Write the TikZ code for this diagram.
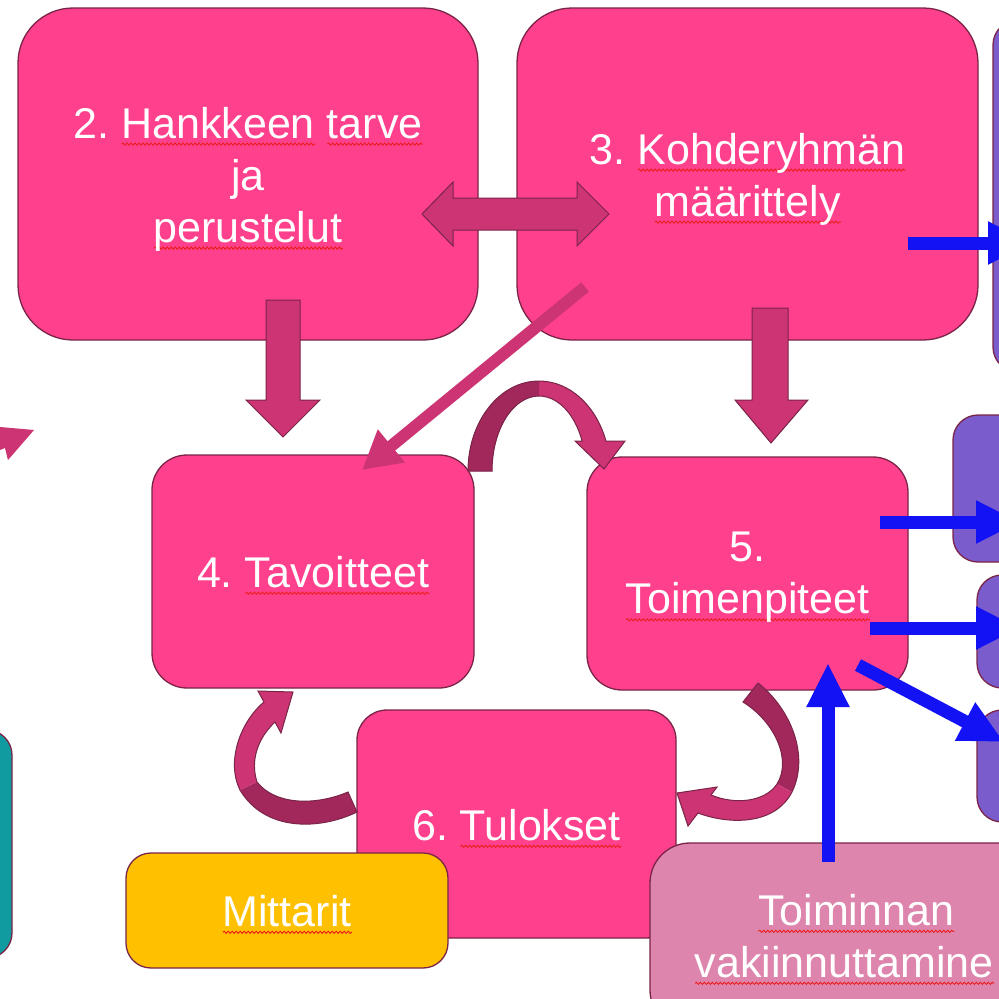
\documentclass[tikz,border=0pt]{standalone}
\usepackage{fontspec}
\setmainfont{Liberation Sans}
\usetikzlibrary{arrows.meta,decorations.pathmorphing}
\definecolor{hot}{RGB}{255,64,140}
\definecolor{edge}{RGB}{122,36,72}
\definecolor{barrow}{RGB}{204,52,115}
\definecolor{barrowdk}{RGB}{162,40,92}
\definecolor{purp}{RGB}{122,92,204}
\definecolor{tealbox}{RGB}{16,155,160}
\definecolor{amber}{RGB}{255,192,0}
\definecolor{mauve}{RGB}{222,133,173}
\definecolor{blu}{RGB}{18,18,245}
\definecolor{spell}{RGB}{235,30,30}
\frenchspacing
\newsavebox\wordbox
\newlength\wordwd
\newcommand\sqw[1]{\sbox\wordbox{#1}\setlength\wordwd{\wd\wordbox}%
  \rlap{\raisebox{-6pt}{\tikz[x=1pt,y=1pt,baseline=0pt,sharp corners]{\draw[spell,sharp corners,line width=0.9pt,
    decorate,decoration={snake,amplitude=1.1pt,segment length=4pt}] (0,0) -- (\wordwd,0);}}}%
  \usebox\wordbox}
\begin{document}
\begin{tikzpicture}[x=1pt,y=-1pt,
  box/.style={draw=edge,line width=1.3pt,rounded corners=#1,inner sep=0pt},
  txt/.style={inner sep=0pt,text=white,font=\fontsize{43}{52}\selectfont,align=center},
  blockarr/.style={fill=barrow,draw=edge,line width=1pt},
  bluearr/.style={draw=blu,line width=13pt,-{Triangle[length=44pt,width=40pt]}},
  diagarr/.style={draw=barrow,line width=12pt,-{Triangle[length=38pt,width=40pt]}}]
\useasboundingbox (0,0) rectangle (999,999);
\clip (0,0) rectangle (999,999);
\fill[white] (0,0) rectangle (999,999);

% right purple boxes
\node[box=25pt,fill=purp,minimum width=67pt,minimum height=352pt] (p1) at (1026.5,196) {};
\node[box=25pt,fill=purp,minimum width=87pt,minimum height=147pt] (p2) at (996.5,488.5) {};
\node[box=25pt,fill=purp,minimum width=63pt,minimum height=113pt] (p3) at (1008.5,631.5) {};
\node[box=25pt,fill=purp,minimum width=63pt,minimum height=112pt] (p4) at (1008.5,766) {};
% left teal box
\node[box=25pt,fill=tealbox,minimum width=52pt,minimum height=228pt] (tl) at (-14,844) {};

% main boxes
\node[box=55pt,fill=hot,minimum width=460pt,minimum height=332pt] (b2) at (248,174) {};
\node[txt] (b2t) at (248,179) {2. \sqw{Hankkeen} \sqw{tarve}\\ja\\\sqw{perustelut}};
\node[box=55pt,fill=hot,minimum width=461pt,minimum height=332pt] (b3) at (747.5,174) {};
\node[txt] (b3t) at (747.5,179) {3. \sqw{Kohderyhmän}\\\sqw{määrittely}};
\node[box=35pt,fill=hot,minimum width=322pt,minimum height=233pt] (b4) at (313,571.5) {};
\node[txt] (b4t) at (313,575.5) {4. \sqw{Tavoitteet}};
\node[box=35pt,fill=hot,minimum width=321pt,minimum height=233pt] (b5) at (747.5,573.5) {};
\node[txt] (b5t) at (747.5,577.5) {5.\\\sqw{Toimenpiteet}};
\node[box=30pt,fill=hot,minimum width=319pt,minimum height=228pt] (b6) at (516.5,824) {};
\node[txt] (b6t) at (516.5,828.5) {6. \sqw{Tulokset}};
\node[box=25pt,fill=amber,minimum width=322pt,minimum height=115pt] (mit) at (287,910.5) {};
\node[txt] (mitt) at (287,914.5) {\sqw{Mittarit}};
\node[box=40pt,fill=mauve,minimum width=412pt,minimum height=187pt] (toi) at (856,936.5) {};
\node[txt] (toit) at (856,939.5) {\sqw{Toiminnan}\\\sqw{vakiinnuttamine}\phantom{n}};

% block arrows
\filldraw[blockarr] (266,300) -- (300,300) -- (300,400) -- (320,400) -- (283,437) -- (246,400) -- (266,400) -- cycle;
\filldraw[blockarr] (752,308) -- (788,308) -- (788,400) -- (808,400) -- (771,443) -- (735,400) -- (752,400) -- cycle;
\filldraw[blockarr] (422,214) -- (453,182) -- (453,198) -- (577,198) -- (577,182) -- (609,214)
  -- (577,246) -- (577,230) -- (453,230) -- (453,246) -- cycle;

% diagonal arrow 3 -> 4
\coordinate (d1) at (585,287);
\coordinate (d2) at (362,470);
\draw[diagarr] (d1) -- (d2);

% left fragment arrowhead
\fill[barrow] (0,427) -- (34,430) -- (8,460) -- (5,448) -- (0,450) -- cycle;

% curved arrow 4 -> 5 (top)
\fill[barrow] (468,471) arc[start angle=180,end angle=340.53,x radius=71,y radius=90]
  -- (625,441) -- (604,469) -- (575,441) -- (582.1,441)
  arc[start angle=336.42,end angle=180,x radius=47,y radius=75] -- cycle;
\fill[barrowdk] (468,471) arc[start angle=180,end angle=270,x radius=71,y radius=90]
  -- (539,396) arc[start angle=270,end angle=180,x radius=47,y radius=75] -- cycle;
\draw[edge,line width=1pt] (468,471) arc[start angle=180,end angle=340.53,x radius=71,y radius=90]
  -- (625,441) -- (604,469) -- (575,441) -- (582.1,441)
  arc[start angle=336.42,end angle=180,x radius=47,y radius=75] -- cycle;

% curved arrow 6 -> 4 (bottom left)
\fill[barrowdk] (357,812) .. controls (320,830) and (265,832) .. (240,790) -- (257,782)
  .. controls (275,805) and (315,806) .. (348,792) -- cycle;
\fill[barrow] (240,790) .. controls (226,762) and (240,722) .. (264,702) -- (258,691) -- (293,692)
  -- (281,733) -- (275,722) .. controls (258,738) and (250,760) .. (257,782) -- cycle;
\draw[edge,line width=1pt] (357,812) .. controls (320,830) and (265,832) .. (240,790)
  .. controls (226,762) and (240,722) .. (264,702) -- (258,691) -- (293,692) -- (281,733)
  -- (275,722) .. controls (258,738) and (250,760) .. (257,782)
  .. controls (275,805) and (315,806) .. (348,792) -- cycle;

% curved arrow 5 -> 6 (bottom right)
\fill[barrowdk] (758,683) .. controls (790,708) and (810,755) .. (792,792) -- (777,784)
  .. controls (792,760) and (775,722) .. (743,702) -- cycle;
\fill[barrow] (792,792) .. controls (775,825) and (730,825) .. (698,813) -- (688,826) -- (677,793)
  -- (717,787) -- (711,795) .. controls (735,805) and (765,802) .. (777,784) -- cycle;
\draw[edge,line width=1pt] (758,683) .. controls (790,708) and (810,755) .. (792,792)
  .. controls (775,825) and (730,825) .. (698,813) -- (688,826) -- (677,793) -- (717,787)
  -- (711,795) .. controls (735,805) and (765,802) .. (777,784)
  .. controls (792,760) and (775,722) .. (743,702) -- cycle;

% blue arrows
\coordinate (a1s) at (908,243);   \coordinate (a1e) at (1032,243);
\coordinate (a2s) at (880,522);   \coordinate (a2e) at (1020,522);
\coordinate (a3s) at (870,628);   \coordinate (a3e) at (1020,628);
\coordinate (a4s) at (858,665);   \coordinate (a4e) at (1004,742);
\coordinate (a5s) at (828,862);   \coordinate (a5e) at (828,663);
\draw[bluearr] (a1s) -- (a1e);
\draw[bluearr] (a2s) -- (a2e);
\draw[bluearr] (a3s) -- (a3e);
\draw[bluearr] (a4s) -- (a4e);
\draw[bluearr] (a5s) -- (a5e);
\end{tikzpicture}
\end{document}
